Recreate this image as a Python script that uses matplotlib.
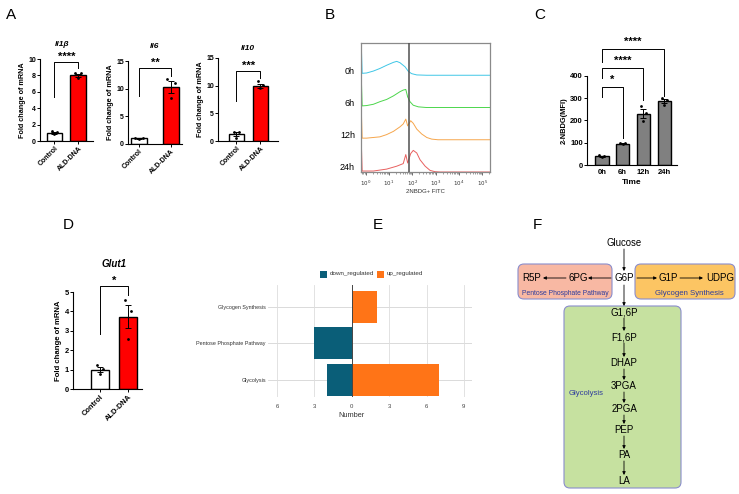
import numpy as np
import matplotlib
matplotlib.use('Agg')
import matplotlib.pyplot as plt
from matplotlib.patches import FancyBboxPatch, Rectangle
from matplotlib.ticker import LogLocator, NullFormatter, FixedLocator

plt.rcParams['font.family'] = ['Liberation Sans', 'DejaVu Sans']

# ---------------- data ----------------
groups = ['Control', 'ALD-DNA']

il1b_bars = [1.0, 8.0]
il1b_err = [0.12, 0.2]
il1b_dots = [[1.2, 1.1, 0.8], [8.3, 8.25, 7.7]]

il6_bars = [1.0, 10.3]
il6_err = [0.08, 1.1]
il6_dots = [[1.1, 1.0, 0.9], [11.8, 11.0, 8.3]]

il10_bars = [1.3, 10.0]
il10_err = [0.38, 0.35]
il10_dots = [[1.7, 1.7, 0.5], [10.8, 10.1, 9.5]]

glut1_bars = [1.0, 3.72]
glut1_err = [0.13, 0.6]
glut1_dots = [[1.22, 1.05, 0.78], [4.6, 4.0, 2.6]]

time_labels = ['0h', '6h', '12h', '24h']
nbdg_bars = [40, 96, 231, 287]
nbdg_err = [2, 2, 19, 9]
nbdg_dots = [[43, 41, 38], [99, 97, 94], [265, 232, 199], [300, 293, 270]]

# flow histograms (log10 intensity, relative height in lane units)
hist_labels = ['0h', '6h', '12h', '24h']
hist_colors = ['#3ec6e6', '#4cd64c', '#f6a64c', '#e8605f']
h0_x = [-0.2, -0.19, -0.15, 0.04, 0.33, 0.61, 0.90, 1.19, 1.33, 1.47, 1.69, 1.83, 1.97, 2.19, 2.62, 5.33]
h0_y = [0.0, 1.0, 0.06, 0.07, 0.13, 0.21, 0.31, 0.40, 0.43, 0.39, 0.26, 0.12, 0.05, 0.01, 0.0, 0.0]
h6_x = [-0.2, -0.19, -0.15, 0.04, 0.33, 0.61, 0.90, 1.19, 1.47, 1.61, 1.72, 1.80, 1.90, 2.04, 2.26, 2.6, 5.33]
h6_y = [0.0, 1.0, 0.05, 0.06, 0.10, 0.18, 0.25, 0.36, 0.49, 0.54, 0.56, 0.33, 0.18, 0.07, 0.02, 0.0, 0.0]
h12_x = [-0.2, -0.19, -0.15, 0.04, 0.61, 0.90, 1.19, 1.47, 1.61, 1.72, 1.80, 1.93, 2.04, 2.19, 2.40, 2.62, 2.83, 3.1, 5.33]
h12_y = [0.0, 1.0, 0.05, 0.05, 0.09, 0.16, 0.26, 0.40, 0.49, 0.64, 0.43, 0.59, 0.51, 0.33, 0.18, 0.07, 0.02, 0.0, 0.0]
h24_x = [-0.2, -0.19, -0.15, 0.33, 0.90, 1.33, 1.61, 1.72, 1.80, 1.93, 2.04, 2.19, 2.33, 2.55, 2.76, 2.97, 3.2, 5.33]
h24_y = [0.0, 1.0, 0.03, 0.03, 0.09, 0.18, 0.26, 0.54, 0.28, 0.57, 0.67, 0.59, 0.38, 0.18, 0.05, 0.01, 0.0, 0.0]
gate_log = 1.85

pathways = ['Glycolysis', 'Pentose Phosphate Pathway', 'Glycogen Synthesis']
down_regulated = [-2, -3, 0]
up_regulated = [7, 0, 2]
e_ticks = [-6, -3, 0, 3, 6, 9]
e_ticklabels = ['6', '3', '0', '3', '6', '9']

glyco_steps = ['G1,6P', 'F1,6P', 'DHAP', '3PGA', '2PGA', 'PEP', 'PA', 'LA']

# ---------------- figure ----------------
W, H = 739, 494
fig = plt.figure(figsize=(W / 100, H / 100), dpi=100)
fig.patch.set_facecolor('white')


def px_axes(x0, y0, x1, y1):
    return fig.add_axes([x0 / W, 1 - y1 / H, (x1 - x0) / W, (y1 - y0) / H])


def ftext(x, y, s, **kw):
    fig.text(x / W, 1 - y / H, s, **kw)


def style_prism(ax, fs=5):
    for s in ['top', 'right']:
        ax.spines[s].set_visible(False)
    for s in ['left', 'bottom']:
        ax.spines[s].set_linewidth(0.8)
    ax.tick_params(length=2, width=0.7, labelsize=fs, pad=1)
    for lab in ax.get_yticklabels():
        lab.set_fontweight('bold')


offs = np.array([-0.12, 0.12, 0.0])
STAR_FS = 8


def mrna_panel(box, bars, err, dots, yticks, xlim, width, sig, br, ylab_fs=5.2, tick_fs=5):
    ax = px_axes(*box)
    x = np.arange(len(bars))
    ax.bar(x, bars, width, color=['white', '#ff0000'], edgecolor='black', linewidth=1.0, zorder=2)
    ax.errorbar(x, bars, yerr=err, fmt='none', ecolor='black', elinewidth=0.7,
                capsize=2, capthick=0.7, zorder=3)
    for i in range(len(bars)):
        ax.scatter(i + offs, dots[i], s=4, c='black', linewidths=0, zorder=4)
    ax.set_xlim(*xlim)
    ax.set_ylim(0, yticks[-1])
    ax.set_yticks(yticks)
    ax.set_xticks(x)
    ax.set_xticklabels(groups, rotation=45, ha='right', rotation_mode='anchor',
                       fontsize=tick_fs, fontweight='bold')
    style_prism(ax, tick_fs)
    ax.set_ylabel('Fold change of mRNA', fontsize=ylab_fs, fontweight='bold', labelpad=1.5)
    by, ll, rl = br
    ax.plot([0, 0, 1, 1], [ll, by, by, rl], color='black', lw=0.7, clip_on=False)
    ax.annotate(sig, (0.5, by), xytext=(0, 0.5), textcoords='offset points', ha='center',
                va='bottom', fontsize=STAR_FS, fontweight='bold', annotation_clip=False)
    return ax


# ----- Panel A -----
mrna_panel((40, 59, 93, 141), il1b_bars, il1b_err, il1b_dots, [0, 2, 4, 6, 8, 10],
           (-0.61, 1.62), 0.66, '****', (9.6, 5.4, 8.9))
ftext(62, 44, 'Il1β', ha='center', va='center', fontsize=6, fontweight='bold', style='italic')
mrna_panel((128, 61, 182, 144), il6_bars, il6_err, il6_dots, [0, 5, 10, 15],
           (-0.34, 1.34), 0.49, '**', (13.7, 8.6, 12.3))
ftext(155, 47, 'Il6', ha='center', va='center', fontsize=6, fontweight='bold', style='italic')
mrna_panel((218, 58, 278, 141), il10_bars, il10_err, il10_dots, [0, 5, 10, 15],
           (-0.77, 1.73), 0.63, '***', (12.6, 7.2, 11.4))
ftext(248, 49, 'Il10', ha='center', va='center', fontsize=6, fontweight='bold', style='italic')

# ----- Panel D -----
mrna_panel((73, 292, 142, 389), glut1_bars, glut1_err, glut1_dots, [0, 1, 2, 3, 4, 5],
           (-0.96, 1.5), 0.64, '*', (5.3, 2.86, 4.83), ylab_fs=5.6, tick_fs=5.4)
ftext(114, 264, 'Glut1', ha='center', va='center', fontsize=7, fontweight='bold', style='italic')

# ----- Panel B -----
axb = px_axes(361, 43, 490, 172)
axb.set_xscale('log')
axb.set_xlim(10 ** -0.2, 10 ** 5.33)
axb.set_ylim(0, 4)
hist_x = [h0_x, h6_x, h12_x, h24_x]
hist_y = [h0_y, h6_y, h12_y, h24_y]
for i in range(4):
    base = 3 - i
    axb.plot(10 ** np.array(hist_x[i]), base + np.array(hist_y[i]), color=hist_colors[i],
             lw=0.7, zorder=2, clip_on=True)
axb.axvline(10 ** gate_log, color='#505050', lw=1.1, zorder=3)
for s in axb.spines.values():
    s.set_color('#8a8a8a')
    s.set_linewidth(0.9)
axb.set_yticks([])
axb.xaxis.set_major_locator(FixedLocator([10.0 ** k for k in range(6)]))
axb.set_xticklabels([f'$10^{k}$' for k in range(6)])
axb.xaxis.set_minor_locator(LogLocator(base=10, subs=np.arange(2, 10)))
axb.xaxis.set_minor_formatter(NullFormatter())
axb.tick_params(axis='x', which='major', length=2.5, width=0.6, labelsize=4, pad=2, color='#555555', labelcolor='#333333')
axb.tick_params(axis='x', which='minor', length=1.5, width=0.4, color='#555555')
ftext(425, 191, '2NBDG+ FITC', ha='center', va='center', fontsize=4.3, color='#333333')
for i, lab in enumerate(hist_labels):
    ftext(355, 71 + 32.2 * i, lab, ha='right', va='center', fontsize=6.5)

# ----- Panel C -----
axc = px_axes(587, 76, 677, 165)
xc = np.arange(len(nbdg_bars))
axc.bar(xc, nbdg_bars, 0.64, color='#808080', edgecolor='black', linewidth=1.0, zorder=2)
axc.errorbar(xc, nbdg_bars, yerr=nbdg_err, fmt='none', ecolor='black', elinewidth=0.7,
             capsize=2, capthick=0.7, zorder=3)
for i in range(len(nbdg_bars)):
    axc.scatter(i + offs, nbdg_dots[i], s=4, c='black', linewidths=0, zorder=4)
axc.set_xlim(-0.72, 3.62)
axc.set_ylim(0, 400)
axc.set_yticks([0, 100, 200, 300, 400])
axc.set_xticks(xc)
axc.set_xticklabels(time_labels, fontsize=5.5, fontweight='bold')
style_prism(axc, 5.5)
axc.tick_params(axis='x', length=0, pad=3)
axc.set_ylabel('2-NBDG(MFI)', fontsize=5.4, fontweight='bold', labelpad=2)
axc.set_xlabel('Time', fontsize=6, fontweight='bold', labelpad=2)
c_brackets = [(1, 349, 307, 120, '*'), (2, 434, 390, 292, '****'), (3, 520, 464, 310, '****')]
for j, by, ll, rl, sig in c_brackets:
    axc.plot([0, 0, j, j], [ll, by, by, rl], color='black', lw=0.7, clip_on=False)
    axc.annotate(sig, (j / 2, by), xytext=(0, 2), textcoords='offset points', ha='center',
                 va='bottom', fontsize=STAR_FS, fontweight='bold', annotation_clip=False)

# ----- Panel E -----
axe = px_axes(268, 285, 472, 397)
ye = np.arange(len(pathways))
teal = '#0a5e78'
orange = '#ff7417'
for t in e_ticks:
    axe.axvline(t, color='#444444' if t == 0 else '#dddddd', lw=0.7 if t == 0 else 0.6, zorder=1 if t else 3)
for y in ye:
    axe.axhline(y, color='#d5d5d5', lw=0.6, zorder=0)
axe.barh(ye, down_regulated, height=0.88, color=teal, zorder=2)
axe.barh(ye, up_regulated, height=0.88, color=orange, zorder=2)
axe.set_xlim(-6.72, 9.65)
axe.set_ylim(-0.47, 2.6)
for s in axe.spines.values():
    s.set_visible(False)
axe.set_xticks(e_ticks)
axe.set_xticklabels(e_ticklabels)
axe.set_yticks(ye)
axe.set_yticklabels(pathways)
axe.tick_params(axis='x', length=0, labelsize=4.3, pad=5, labelcolor='#444444')
axe.tick_params(axis='y', length=0, labelsize=3.9, pad=1.5, labelcolor='#333333')
axe.text(0, -0.89, 'Number', ha='center', va='top', fontsize=5.3, color='#333333')
fig.patches.append(Rectangle((320 / W, 1 - 278 / H), 7 / W, 7 / H, transform=fig.transFigure,
                             facecolor=teal, edgecolor='none'))
ftext(330, 274, 'down_regulated', ha='left', va='center', fontsize=4.5, color='#333333')
fig.patches.append(Rectangle((377 / W, 1 - 278 / H), 7 / W, 7 / H, transform=fig.transFigure,
                             facecolor=orange, edgecolor='none'))
ftext(387, 274, 'up_regulated', ha='left', va='center', fontsize=4.5, color='#333333')

# ----- Panel F (diagram) -----
fax = fig.add_axes([0, 0, 1, 1])
fax.set_xlim(0, W)
fax.set_ylim(H, 0)
fax.axis('off')
edge = '#8a8dcc'
fax.add_patch(FancyBboxPatch((518, 264), 94, 35, boxstyle='round,pad=0,rounding_size=6',
                             facecolor='#f8b8a3', edgecolor=edge, lw=0.8))
fax.add_patch(FancyBboxPatch((635, 264), 100, 35, boxstyle='round,pad=0,rounding_size=6',
                             facecolor='#fcc563', edgecolor=edge, lw=0.8))
fax.add_patch(FancyBboxPatch((564, 306), 117, 182, boxstyle='round,pad=0,rounding_size=6',
                             facecolor='#c6e1a0', edgecolor=edge, lw=0.8))
arrow_kw = dict(arrowstyle='-|>', color='black', lw=0.6, mutation_scale=4.5, shrinkA=0, shrinkB=0)


def arrow(x0, y0, x1, y1):
    fax.annotate('', xy=(x1, y1), xytext=(x0, y0), arrowprops=arrow_kw)


node_fs = 7
fax.text(624, 243, 'Glucose', ha='center', va='center', fontsize=6.9)
fax.text(624, 278, 'G6P', ha='center', va='center', fontsize=node_fs)
fax.text(578, 278, '6PG', ha='center', va='center', fontsize=node_fs)
fax.text(532, 278, 'R5P', ha='center', va='center', fontsize=node_fs)
fax.text(668, 278, 'G1P', ha='center', va='center', fontsize=node_fs)
fax.text(720, 278, 'UDPG', ha='center', va='center', fontsize=node_fs)
fax.text(565, 293, 'Pentose Phosphate Pathway', ha='center', va='center', fontsize=4.9, color='#2e3c9c')
fax.text(689, 293, 'Glycogen Synthesis', ha='center', va='center', fontsize=5.6, color='#2e3c9c')
fax.text(586, 393, 'Glycolysis', ha='center', va='center', fontsize=5.6, color='#2e3c9c')
arrow(624, 249, 624, 271)
arrow(611, 278, 588, 278)
arrow(566, 278, 543, 278)
arrow(637, 278, 657, 278)
arrow(680, 278, 703, 278)
arrow(624, 285, 624, 306)
step_y = [312, 337, 363, 386, 409, 430, 455, 481]
for k, lab in enumerate(glyco_steps):
    fax.text(624, step_y[k], lab, ha='center', va='center', fontsize=node_fs)
    if k + 1 < len(glyco_steps):
        arrow(624, step_y[k] + 6, 624, step_y[k + 1] - 6)

# ----- panel letters -----
for lab, (x, y) in zip('ABCDEF', [(11, 15), (330, 15), (540, 15), (68, 225), (378, 225), (537, 225)]):
    ftext(x, y, lab, ha='center', va='center', fontsize=11)

fig.savefig('out.png', dpi=100)
